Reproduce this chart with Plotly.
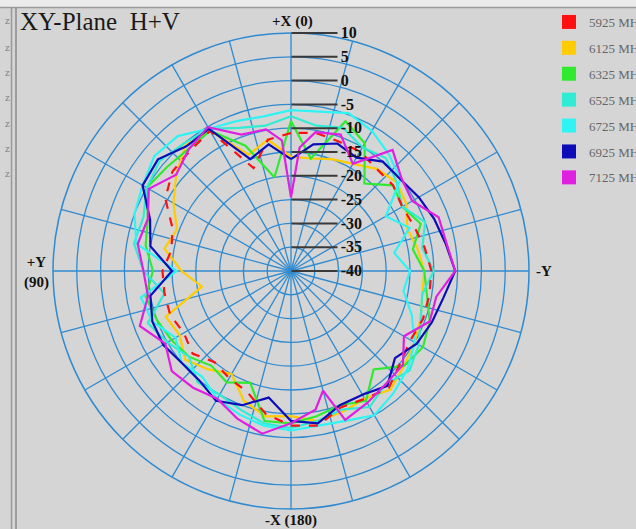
import plotly.graph_objects as go

W, H = 636, 529

# ---- data ----
THETA = list(range(0, 360, 10))
FREQS = ["5925 MHz", "6125 MHz", "6325 MHz", "6525 MHz", "6725 MHz", "6925 MHz", "7125 MHz"]
COLORS = ["#ff1010", "#ffcc00", "#30ea30", "#30ecd4", "#30f4f4", "#0c0cb8", "#e020e0"]

R_5925 = [-11, -12, -17, -6, -7, -7.5, -9.5, -13.5, -14.5, -13, -13, -13, -14, -13, -15, -14, -13, -9.5,
          -7.5, -7, -9.5, -9, -8, -10, -11, -10.5, -10.5, -10.5, -11.5, -12.5, -13, -12, -12, -11, -11, -10.5]
R_6125 = [-16, -12, -14, -6, -5.5, -8.5, -11.5, -14.5, -13, -17, -21, -12, -13, -11, -13, -15, -11, -9,
          -9.5, -8, -8.5, -9, -7.5, -9, -10, -11, -12, -12, -13, -14, -12, -11, -12, -14, -15, -16]
R_6325 = [-8.5, -20, -12, -6, -6.5, -6, -5, -8, -9, -11, -9, -10, -11, -12, -14, -13, -15, -8,
          -8, -9, -10, -8.5, -13, -9, -8, -9, -11, -12, -14, -11, -13, -12, -16, -9, -6.5, -16]
R_6525 = [-7.5, -9, -8, -5.5, -5, -4, -5, -7, -6.5, -9, -13, -8, -10, -12, -9.5, -10, -9, -7.5,
          -7, -8, -9, -7, -9, -7.5, -9, -11, -12, -10, -12, -10, -13, -11, -9, -10, -8, -9]
R_6725 = [-6.2, -7, -6.5, -5.5, -3, -2.5, -4, -5, -7, -16, -8, -9, -12, -10, -11, -9, -8, -7,
          -6.5, -7, -6.5, -5, -6.5, -8, -10, -13, -16, -15, -18, -13.5, -17, -10, -8, -6, -4.7, -6]
R_6925 = [-16.5, -13, -15, -5.5, -5.8, -3.5, -4, -8.5, -10, -15, -10, -9, -9, -10, -10, -8.5, -10, -13,
          -8.5, -7.5, -10, -10, -8.5, -11.5, -9.5, -8.5, -7.5, -5.5, -7, -8, -9, -10, -10, -12.5, -11.5, -13]
THETA_7125 = [0, 4, 10, 20, 30, 40, 50, 60, 70, 80, 90, 100, 110, 120, 130, 140, 150, 160, 170, 180,
              190, 195, 200, 210, 220, 230, 240, 250, 260, 270, 280, 290, 300, 310, 320, 330, 340, 350, 356]
R_7125 = [-24.5, -12.5, -9.8, -9.5, -5.1, -6.6, -8.5, -5.5, -8, -7.3, -9, -9.5, -6.2, -9.5, -7.3, -8, -9, -7, -5.3, -8,
          -10.4, -14, -6.7, -8, -9, -9.3, -12.6, -9, -9, -5.5, -6.8, -7, -10.6, -9.7, -6.8, -14, -9.5, -10.4, -14]

R_TICKS = [-40, -35, -30, -25, -20, -15, -10, -5, 0, 5, 10]
R_TICKTEXT = ["-40", "-35", "-30", "-25", "-20", "-15", "-10", "-5", "0", "5", "10"]
SPOKES = list(range(0, 360, 15))

series = [
    (R_5925, THETA, 0), (R_6125, THETA, 1), (R_6325, THETA, 2), (R_6525, THETA, 3),
    (R_6725, THETA, 4), (R_6925, THETA, 5), (R_7125, THETA_7125, 6),
]
draw_order = [1, 2, 3, 4, 0, 5, 6]

fig = go.Figure()
for idx in draw_order:
    r, th, ci = series[idx]
    fig.add_trace(go.Scatterpolar(
        r=r + [r[0]], theta=th + [th[0]], mode="lines",
        line=dict(color=COLORS[ci], width=2.2, dash="dash" if ci == 0 else "solid"),
        showlegend=False, hoverinfo="skip"))

# legend swatches
for i, name in enumerate(FREQS):
    fig.add_trace(go.Scatterpolar(
        r=[None], theta=[None], mode="markers", name=name,
        marker=dict(symbol="square", size=14, color=COLORS[i], line=dict(width=0)),
        legendgroup=name, showlegend=True))

GRID = "#2f8ad0"
BG = "#d5d5d5"
fig.update_layout(
    width=W, height=H,
    margin=dict(l=0, r=0, t=0, b=0, autoexpand=False),
    paper_bgcolor=BG, plot_bgcolor=BG,
    polar=dict(
        domain=dict(x=[53 / W, 529 / W], y=[20 / H, 496 / H]),
        bgcolor=BG,
        radialaxis=dict(
            range=[-40, 10], tickvals=R_TICKS, ticktext=R_TICKTEXT, angle=90, side="clockwise",
            ticks="outside", ticklen=46, tickwidth=2, tickcolor="#3a3a3a",
            showline=False, gridcolor=GRID, gridwidth=1.3,
            tickfont=dict(family="Liberation Serif", size=16, color="#111111", weight="bold"),
            tickangle=90,
        ),
        angularaxis=dict(
            rotation=90, direction="counterclockwise",
            tickvals=SPOKES, showticklabels=False, ticks="",
            gridcolor=GRID, gridwidth=1.3, showline=True, linecolor=GRID, linewidth=1.5,
        ),
    ),
    legend=dict(
        x=549 / W, y=1 - 7 / H, xanchor="left", yanchor="top",
        bgcolor="rgba(0,0,0,0)", borderwidth=0,
        font=dict(family="Liberation Serif", size=13, color="#666666"),
        traceorder="grouped", tracegroupgap=6, itemclick=False,
    ),
    showlegend=True,
)

def px(x, y):
    return x / W, 1 - y / H

annots = []
tx, ty = px(18, 22)
annots.append(dict(text="XY-Plane&nbsp; H+V", x=tx, y=ty, xanchor="left", yanchor="middle",
                   font=dict(family="Liberation Serif", size=25, color="#1a1a1a")))
lab_font = dict(family="Liberation Serif", size=15, color="#111111", weight="bold")
for text, (x, y) in [("+X (0)", (292, 22)), ("-Y", (544, 271)), ("+Y<br>(90)", (36, 272)), ("-X (180)", (291, 520))]:
    ax, ay = px(x, y)
    annots.append(dict(text=text, x=ax, y=ay, xanchor="center", yanchor="middle", font=lab_font))
for yy in [20, 47, 72, 97, 123, 148, 173]:
    ax, ay = px(3, yy)
    annots.append(dict(text="z", x=ax, y=ay, xanchor="left", yanchor="middle",
                       font=dict(family="Liberation Serif", size=11, color="#8a7f88")))
for a in annots:
    a.update(xref="paper", yref="paper", showarrow=False)
fig.update_layout(annotations=annots)

shapes = [
    dict(type="rect", xref="paper", yref="paper", x0=0, x1=1, y0=1 - 7 / H, y1=1,
         fillcolor="#ebebeb", line=dict(width=0), layer="below"),
    dict(type="line", xref="paper", yref="paper", x0=0, x1=1, y0=1 - 7.5 / H, y1=1 - 7.5 / H,
         line=dict(color="#9c9c9c", width=1.5)),
    dict(type="line", xref="paper", yref="paper", x0=11.5 / W, x1=11.5 / W, y0=0, y1=1 - 7.5 / H,
         line=dict(color="#9a9a9a", width=1.5)),
    dict(type="line", xref="paper", yref="paper", x0=16 / W, x1=16 / W, y0=0, y1=1 - 7.5 / H,
         line=dict(color="#8a8a8a", width=1.5)),
]
fig.update_layout(shapes=shapes)

fig.write_html("out.html", config={"displayModeBar": False, "staticPlot": True},
               post_script="document.body.style.margin='0';document.body.style.overflow='hidden';")
